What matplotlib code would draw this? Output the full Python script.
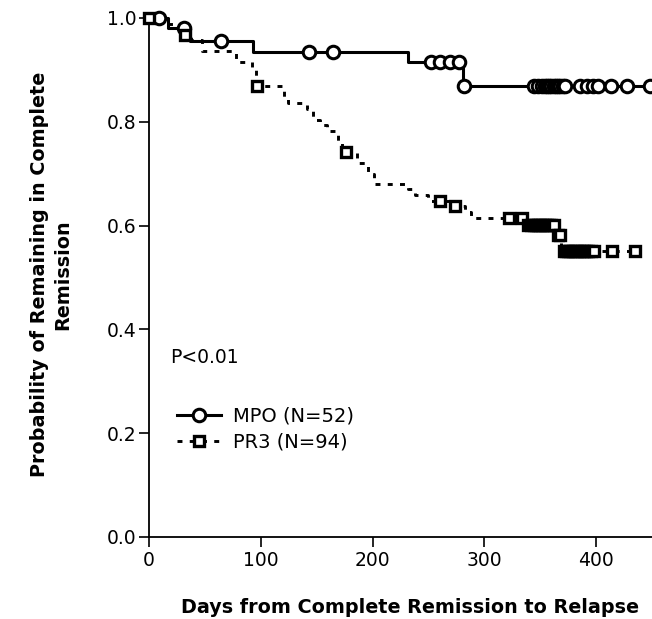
import numpy as np
import matplotlib
matplotlib.use("Agg")
import matplotlib.pyplot as plt
from matplotlib.lines import Line2D

# Kaplan-Meier step curves (event times, survival after each step)
mpo_times = [0, 17, 37, 93, 232, 281]
mpo_surv = [1.0, 0.981, 0.956, 0.935, 0.915, 0.868]
mpo_censor = [9, 31, 64, 143, 165, 252, 260, 269, 277, 282, 344, 348, 352, 354,
              356, 358, 360, 362, 364, 366, 368, 370, 372, 386, 392, 397, 402,
              413, 428, 448]
mpo_end = 450

pr3_times = [0, 15, 28, 38, 47, 78, 92, 96, 121, 124, 141, 147, 153, 159, 169,
             173, 186, 196, 201, 232, 238, 250, 272, 283, 288, 338, 365, 369]
pr3_surv = [1.0, 0.989, 0.968, 0.957, 0.936, 0.915, 0.900, 0.868, 0.847, 0.836,
            0.825, 0.804, 0.794, 0.783, 0.760, 0.741, 0.720, 0.700, 0.681, 0.670,
            0.659, 0.648, 0.637, 0.626, 0.614, 0.601, 0.582, 0.551]
pr3_censor = [0, 32, 97, 176, 260, 274, 322, 334, 339, 342, 344, 346, 348, 350,
              352, 354, 356, 358, 360, 362, 366, 368, 371, 373, 375, 377, 379,
              381, 383, 385, 387, 389, 391, 393, 395, 398, 414, 435]
pr3_end = 435

x_ticks = [0, 100, 200, 300, 400]
y_ticks = [0.0, 0.2, 0.4, 0.6, 0.8, 1.0]

plt.rcParams["font.family"] = ["DejaVu Sans"]


def step_value(times, surv, t):
    idx = np.searchsorted(times, t, side="right") - 1
    return np.asarray(surv)[idx]


fig = plt.figure(figsize=(6.52, 6.19), dpi=100)
ax = fig.add_axes([0.2285, 0.1325, 0.7715, 0.8385])

lw = 2.2
dots = (0, (1.7, 2.5))
# MPO solid
ax.step(mpo_times + [mpo_end], mpo_surv + [mpo_surv[-1]], where="post",
        color="black", lw=lw, clip_on=False, zorder=3)
ax.plot(mpo_censor, step_value(mpo_times, mpo_surv, mpo_censor), "o",
        ms=9, mfc="white", mec="black", mew=2.2, clip_on=False, zorder=4)

# PR3 dotted
ax.step(pr3_times + [pr3_end], pr3_surv + [pr3_surv[-1]], where="post",
        color="black", lw=2.1, ls=dots, clip_on=False, zorder=3)
ax.plot(pr3_censor, step_value(pr3_times, pr3_surv, pr3_censor), "s",
        ms=7.5, mfc="white", mec="black", mew=2.4, clip_on=False, zorder=4)

ax.set_xlim(0, 450)
ax.set_ylim(0, 1.0)
ax.set_xticks(x_ticks)
ax.set_yticks(y_ticks)
ax.set_yticklabels([f"{v:.1f}" for v in y_ticks])
ax.tick_params(labelsize=13.5, length=7, width=1.2, direction="out")
ax.tick_params(axis="x", pad=3)
ax.tick_params(axis="y", pad=2)
for s in ["top", "right"]:
    ax.spines[s].set_visible(False)
for s in ["left", "bottom"]:
    ax.spines[s].set_linewidth(1.3)

ax.set_xlabel("Days from Complete Remission to Relapse", fontsize=13.8,
              fontweight="bold")
ax.xaxis.set_label_coords(0.519, -0.118)
ax.set_ylabel("Probability of Remaining in Complete\nRemission", fontsize=13.8,
              fontweight="bold", linespacing=1.3)
ax.yaxis.set_label_coords(-0.153, 0.505)

ax.text(19, 0.345, "P<0.01", fontsize=13.5, va="center", ha="left")

handles = [
    Line2D([], [], color="black", lw=lw, marker="o", ms=9, mfc="white",
           mec="black", mew=2.2),
    Line2D([], [], color="black", lw=2.1, ls=dots, marker="s",
           ms=7.5, mfc="white", mec="black", mew=2.4),
]
ax.legend(handles, ["MPO (N=52)", "PR3 (N=94)"], loc="center left",
          bbox_to_anchor=(0.055, 0.208), frameon=False, fontsize=14,
          handlelength=2.27, handletextpad=0.65, labelspacing=0.35,
          borderpad=0, borderaxespad=0)

fig.savefig("out.png", dpi=100)
